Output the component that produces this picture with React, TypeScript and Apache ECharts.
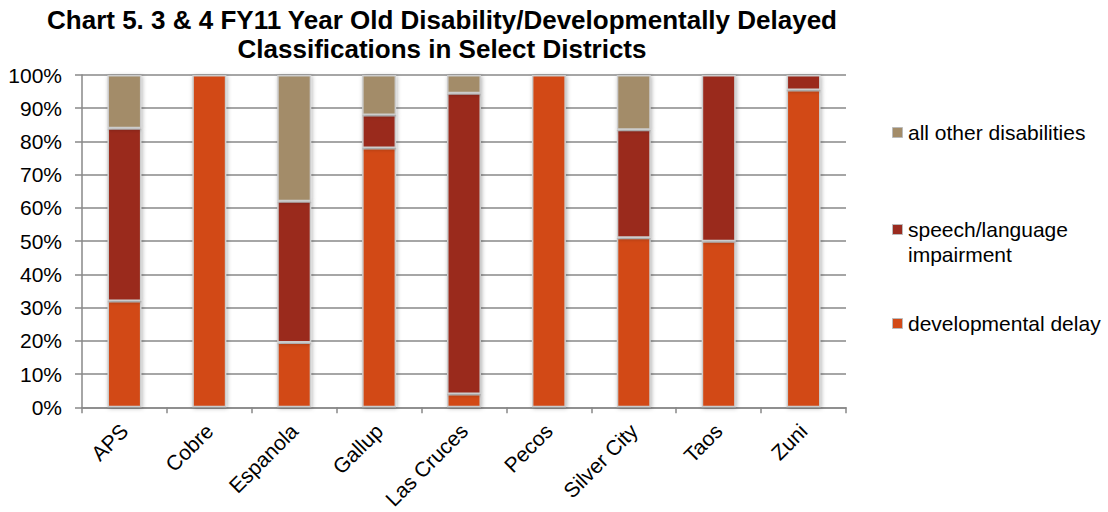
import React, { useEffect, useRef } from 'react';
import * as echarts from 'echarts';

const categories = ['APS', 'Cobre', 'Espanola', 'Gallup', 'Las Cruces', 'Pecos', 'Silver City', 'Taos', 'Zuni'];
const developmentalDelay = [32, 100, 19.5, 78, 4, 100, 51, 50, 95.5];
const speechLanguage = [52, 0, 42.5, 10, 90.5, 0, 32.5, 50, 4.5];
const allOtherDisabilities = [16, 0, 38, 12, 5.5, 0, 16.5, 0, 0];
const seriesNames = ['developmental delay', 'speech/language impairment', 'all other disabilities'];
const legendLabels = ['developmental delay', 'speech/language\nimpairment', 'all other disabilities'];
const colors = ['#D24A17', '#9A2B1F', '#A38C69'];
const titleText = 'Chart 5. 3 & 4 FY11 Year Old Disability/Developmentally Delayed\nClassifications in Select Districts';

const FONT = '"Liberation Sans", Arial, sans-serif';

export default function App() {
  const ref = useRef<HTMLDivElement>(null);
  useEffect(() => {
    document.body.style.margin = '0';
    const chart = echarts.init(ref.current as HTMLDivElement, null, { renderer: 'svg' });
    const dataSets = [developmentalDelay, speechLanguage, allOtherDisabilities];
    const legendY = [323, 229, 132];
    chart.setOption({
      animation: false,
      textStyle: { fontFamily: FONT },
      title: {
        text: titleText,
        left: 437,
        top: 0,
        textAlign: 'center',
        textStyle: { fontFamily: FONT, fontWeight: 'bold', fontSize: 26, color: '#000', lineHeight: 29 },
      },
      grid: { left: 82, right: 262, top: 75, bottom: 103, containLabel: false },
      xAxis: {
        type: 'category',
        data: categories,
        axisLine: { lineStyle: { color: '#888', width: 1.5 } },
        axisTick: { show: true, length: 6, lineStyle: { color: '#888', width: 1.5 } },
        axisLabel: { rotate: 45, fontSize: 21, color: '#000', margin: 20, fontFamily: FONT, interval: 0 },
      },
      yAxis: {
        type: 'value',
        min: 0,
        max: 100,
        interval: 10,
        axisLine: { show: true, lineStyle: { color: '#888', width: 1.5 } },
        axisTick: { show: true, length: 7, lineStyle: { color: '#888', width: 1.5 } },
        axisLabel: { formatter: '{value}%', fontSize: 21, color: '#000', margin: 20, fontFamily: FONT },
        splitLine: { show: true, lineStyle: { color: '#888', width: 1.5 } },
      },
      series: dataSets.map((d, i) => ({
        name: seriesNames[i],
        type: 'bar',
        stack: 'total',
        barWidth: '40%',
        data: d.map((v) => (v === 0 ? null : v)),
        itemStyle: {
          color: colors[i],
          borderColor: '#cccccc',
          borderWidth: 1.5,
          shadowBlur: 4,
          shadowColor: 'rgba(0,0,0,0.3)',
          shadowOffsetX: 1,
          shadowOffsetY: 1,
        },
      })),
      graphic: legendLabels.flatMap((label, i) => [
        {
          type: 'rect',
          left: 892,
          top: legendY[i] - 5,
          shape: { width: 10, height: 10 },
          style: { fill: colors[i], stroke: '#bbbbbb', lineWidth: 1 },
        },
        {
          type: 'text',
          left: 908,
          top: legendY[i] - 12,
          style: {
            text: label,
            fontSize: 21,
            fontFamily: FONT,
            fill: '#000',
            lineHeight: 25,
          },
        },
      ]),
    });
    return () => chart.dispose();
  }, []);
  return <div ref={ref} style={{ width: 1108, height: 512 }} />;
}
